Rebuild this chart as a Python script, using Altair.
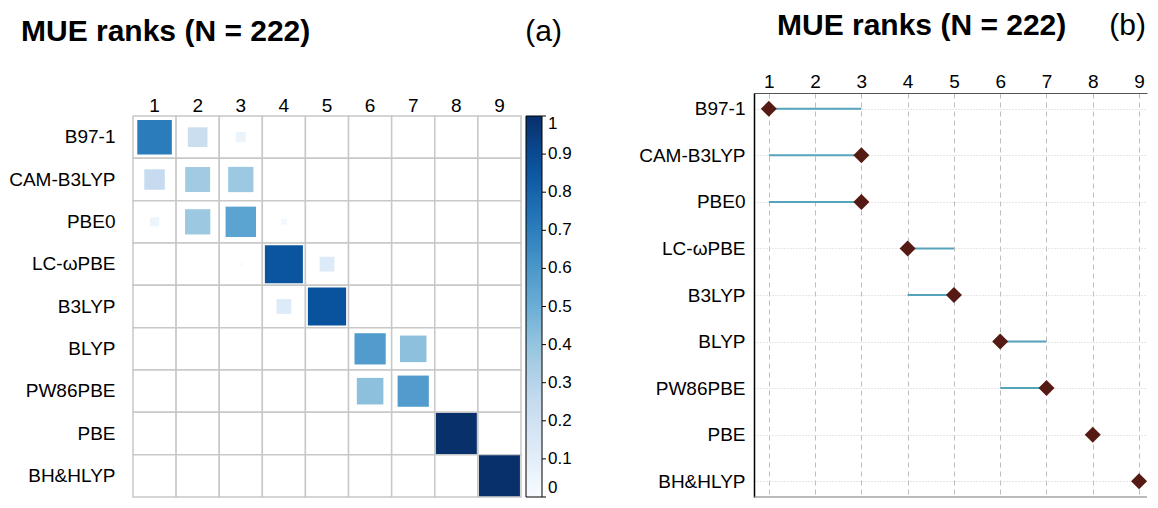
import altair as alt
import pandas as pd

FONT = "Liberation Sans"

methods = ["B97-1", "CAM-B3LYP", "PBE0", "LC-ωPBE", "B3LYP", "BLYP", "PW86PBE", "PBE", "BH&HLYP"]
ranks = [1, 2, 3, 4, 5, 6, 7, 8, 9]

# (a) frequency of each rank (columns 1..9) for each method
p_b971 = [0.71, 0.23, 0.06, 0, 0, 0, 0, 0, 0]
p_camb3lyp = [0.25, 0.37, 0.38, 0, 0, 0, 0, 0, 0]
p_pbe0 = [0.05, 0.38, 0.55, 0.02, 0, 0, 0, 0, 0]
p_lcwpbe = [0.002, 0.002, 0.006, 0.86, 0.13, 0, 0, 0, 0]
p_b3lyp = [0, 0, 0, 0.13, 0.87, 0, 0, 0, 0]
p_blyp = [0, 0, 0, 0, 0, 0.58, 0.42, 0, 0]
p_pw86pbe = [0, 0, 0, 0, 0, 0.42, 0.58, 0, 0]
p_pbe = [0, 0, 0, 0, 0, 0, 0, 1.0, 0]
p_bhhlyp = [0, 0, 0, 0, 0, 0, 0, 0, 1.0]
rank_freq = [p_b971, p_camb3lyp, p_pbe0, p_lcwpbe, p_b3lyp, p_blyp, p_pw86pbe, p_pbe, p_bhhlyp]

# (b) rank point estimate and interval
rank_point = [1, 3, 3, 4, 5, 6, 7, 8, 9]
rank_low = [1, 1, 1, 4, 4, 6, 6, 8, 9]
rank_high = [3, 3, 3, 5, 5, 7, 7, 8, 9]

colorbar_values = [0, 0.1, 0.2, 0.3, 0.4, 0.5, 0.6, 0.7, 0.8, 0.9, 1]
blues = ["#F7FBFF", "#DEEBF7", "#C6DBEF", "#9ECAE1", "#6BAED6",
         "#4292C6", "#2171B5", "#08519C", "#08306B"]

title_text = "MUE ranks (N = 222)"

cells = pd.DataFrame([
    {"method": m, "rank": r, "p": rank_freq[i][j]}
    for i, m in enumerate(methods) for j, r in enumerate(ranks)
])
intervals = pd.DataFrame({"method": methods, "pt": rank_point, "lo": rank_low, "hi": rank_high})

# ---------------- (a) heat map ----------------
LW, LH, LTOP = 388, 404, 23
CBX = 393  # colour bar left edge, relative to the heat map
xa = alt.X("rank:O", scale=alt.Scale(domain=ranks, paddingInner=0, paddingOuter=0),
           axis=alt.Axis(orient="top", offset=-LTOP, labelAngle=0, ticks=False, domain=False,
                         labelPadding=1, title=None, labelFontSize=19, grid=False))
ya = alt.Y("method:N", scale=alt.Scale(domain=methods, range=[LTOP, LH], paddingInner=0, paddingOuter=0),
           axis=alt.Axis(orient="left", ticks=False, domain=False, labelPadding=18, title=None,
                         labelFontSize=19, grid=False))

base_a = alt.Chart(cells)
cell_grid = base_a.mark_rect(fill="white", stroke="#c8c8c8", strokeWidth=1.5).encode(x=xa, y=ya)
squares = base_a.transform_filter("datum.p > 0").transform_calculate(
    s="datum.p * 100"
).mark_square(filled=True, opacity=1, strokeWidth=0).encode(
    x=xa, y=ya,
    size=alt.Size("s:Q", scale=alt.Scale(domain=[0, 100], range=[0, 1681]), legend=None),
    color=alt.Color("p:Q", scale=alt.Scale(domain=[0, 1], range=blues),
                    legend=alt.Legend(type="gradient", orient="none", legendX=CBX, legendY=LTOP,
                                      direction="vertical",
                                      gradientLength=LH - LTOP, gradientThickness=16,
                                      gradientStrokeColor="black", gradientStrokeWidth=1,
                                      values=colorbar_values, format="~g", title=None,
                                      labelFontSize=17,
                                      labelBaseline=alt.ExprRef(expr="datum.value <= 0 ? 'bottom' : 'middle'"),
                                      labelOffset=6, labelColor="black", padding=0)),
)
heat = alt.layer(cell_grid, squares)

# short tick marks on the colour bar
cbar_ticks = alt.Chart(pd.DataFrame({"v": colorbar_values})).mark_rule(
    color="black", strokeWidth=1
).encode(
    x=alt.value(CBX + 16), x2=alt.value(CBX + 20),
    y=alt.Y("v:Q", scale=alt.Scale(domain=[0, 1], range=[LH, LTOP], nice=False, zero=False), axis=None),
)

ta = alt.Chart(pd.DataFrame({"t": [title_text]})).mark_text(
    font=FONT, fontSize=30, fontWeight="bold", align="left", baseline="alphabetic", color="black"
).encode(text="t:N", x=alt.value(-112), y=alt.value(-52))
la = alt.Chart(pd.DataFrame({"t": ["(a)"]})).mark_text(
    font=FONT, fontSize=30, align="right", baseline="alphabetic", color="black"
).encode(text="t:N", x=alt.value(429), y=alt.value(-52))

left = alt.layer(heat, cbar_ticks, ta, la).resolve_scale(y="independent").resolve_axis(
    y="independent").properties(width=LW, height=LH, view=alt.ViewBackground(stroke="transparent", strokeWidth=0))

# ---------------- (b) rank intervals ----------------
RW, RH = 393, 404
xdom = [0.68, 9.172]
xb = alt.X("pt:Q", scale=alt.Scale(domain=xdom, nice=False, zero=False),
           axis=alt.Axis(orient="top", values=ranks, format="d", ticks=False, domain=True,
                         domainColor="#555555", domainWidth=1.2, labelPadding=2, title=None,
                         labelFontSize=19, grid=True, gridDash=[5, 4], gridColor="#bdbdbd",
                         gridWidth=1))
yb = alt.Y("method:N", scale=alt.Scale(domain=methods, type="point", padding=0.34),
           axis=alt.Axis(ticks=False, domain=True, domainColor="black", domainWidth=1.5,
                         labelPadding=9, title=None, labelFontSize=19, grid=True,
                         gridDash=[1, 2], gridColor="#cfcfcf", gridWidth=1))

base_b = alt.Chart(intervals)
segs = base_b.mark_rule(color="#56a3bc", strokeWidth=2).encode(
    x=alt.X("lo:Q", scale=alt.Scale(domain=xdom, nice=False, zero=False)),
    x2="hi:Q", y=yb)
diam = base_b.mark_point(shape="diamond", filled=True, size=256, color="#561a14", opacity=1).encode(
    x=xb, y=yb)
bottom = alt.Chart(pd.DataFrame({"b": [0]})).mark_rule(color="#7a7a7a", strokeWidth=1.2).encode(
    x=alt.value(0), x2=alt.value(RW), y=alt.value(RH))

tb = alt.Chart(pd.DataFrame({"t": [title_text]})).mark_text(
    font=FONT, fontSize=30, fontWeight="bold", align="left", baseline="alphabetic", color="black"
).encode(text="t:N", x=alt.value(23), y=alt.value(-58))
lb = alt.Chart(pd.DataFrame({"t": ["(b)"]})).mark_text(
    font=FONT, fontSize=30, align="right", baseline="alphabetic", color="black"
).encode(text="t:N", x=alt.value(392), y=alt.value(-58))

right = alt.layer(segs, diam, bottom, tb, lb).properties(
    width=RW, height=RH, view=alt.ViewBackground(stroke="transparent", strokeWidth=0))

chart = alt.hconcat(left, right, spacing=233, bounds="flush").properties(
    padding={"left": 0, "top": 3, "right": 0, "bottom": 0}
).configure_view(stroke="transparent", strokeWidth=0).configure(font=FONT).configure_axis(
    labelFont=FONT, labelColor="black"
).configure_legend(labelFont=FONT)

chart.save("out.html", embed_options={"renderer": "svg", "actions": False})
